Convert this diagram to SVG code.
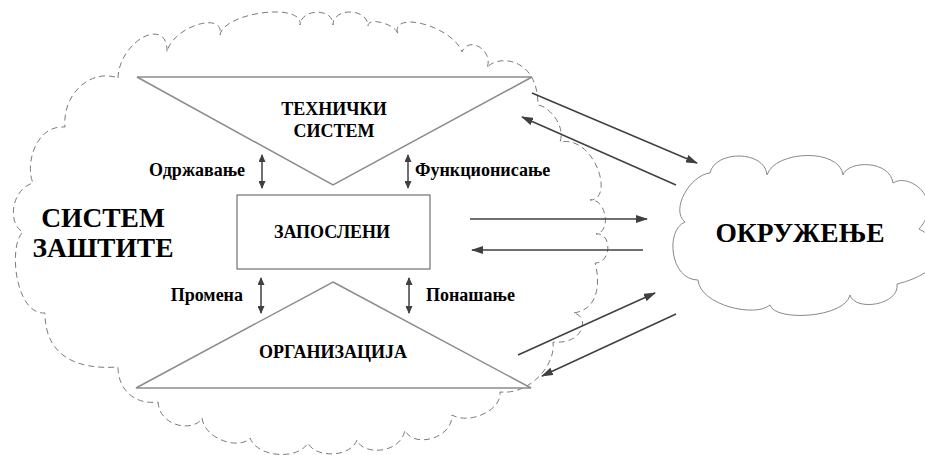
<svg xmlns="http://www.w3.org/2000/svg" width="925" height="455" viewBox="0 0 925 455">
<style>
.t{font-family:"Liberation Serif","DejaVu Serif","Noto Serif",serif;font-weight:bold;fill:#000}
.s{font-size:18px}
.tri{fill:#fff;stroke:#8c8c8c;stroke-width:1.5}
.box{fill:#fff;stroke:#555;stroke-width:1}
.dash{fill:none;stroke:#7a7a7a;stroke-width:1;stroke-dasharray:6 4}
.cl{fill:#fff;stroke:#8a8a8a;stroke-width:1}
.ar{stroke:#404040;stroke-width:1.5;fill:none}
</style>
<defs>
<marker id="ah" viewBox="0 0 12 8" refX="11" refY="4" markerWidth="12" markerHeight="8" markerUnits="userSpaceOnUse" orient="auto">
<path d="M0,0 L12,4 L0,8 z" fill="#404040"/>
</marker>
<marker id="sh" viewBox="0 0 8 7" refX="7" refY="3.5" markerWidth="8" markerHeight="7" markerUnits="userSpaceOnUse" orient="auto-start-reverse">
<path d="M0,0 L8,3.5 L0,7 z" fill="#404040"/>
</marker>
</defs>
<g id="sistem-zastite">
<path class="dash" d="M118,78 C119,41 168,15 167,52 C172,27 225,10 220,35 C224,12 304,2 300,25 C301,8 334,8 333,25 C333,7 368,8 368,26 C368,16 398,25 398,35 C389,9 453,26 462,52 C469,35 494,51 487,68 C495,55 538,55 538,105 C548,106 566,125 560,142 C595,135 615,200 590,200 C606,198 612,232 596,234 C612,232 612,263 595,263 C600,280 600,310 573,313 C590,315 585,345 553,342 C556,365 530,395 500,392 C502,410 470,425 452,415 C452,440 412,448 405,430 C400,455 362,455 357,440 C350,458 315,458 308,443 C298,460 258,458 250,438 C240,450 205,440 202,418 C195,432 160,428 158,402 C135,405 118,390 118,367 C75,370 45,355 45,313 C15,315 8,245 23,232 C8,225 10,190 33,183 C25,165 35,125 65,127 C62,95 90,68 118,78 Z"/>
<text class="t" x="103" y="227" font-size="27.5" text-anchor="middle">СИСТЕМ</text>
<text class="t" x="103" y="257" font-size="27.5" text-anchor="middle">ЗАШТИТЕ</text>
</g>
<g id="tehnicki-sistem">
<polygon class="tri" points="137,77 532,77 333,185"/>
<text class="t s" x="334" y="115" text-anchor="middle">ТЕХНИЧКИ</text>
<text class="t s" x="334" y="137" text-anchor="middle">СИСТЕМ</text>
</g>
<g id="zaposleni">
<rect class="box" x="237" y="195" width="193" height="74"/>
<text class="t s" x="332" y="238" text-anchor="middle">ЗАПОСЛЕНИ</text>
</g>
<g id="organizacija">
<polygon class="tri" points="333,282 531,388 136,388"/>
<text class="t s" x="333" y="358" text-anchor="middle">ОРГАНИЗАЦИЈА</text>
</g>
<g id="okruzenje">
<path class="cl" d="M685,222 C670,210 690,175 710,173 C715,150 765,150 767,175 C775,150 840,148 843,175 C848,160 890,160 893,183 C910,172 945,200 919,229 C950,245 945,272 897,284 C900,305 855,312 850,295 C845,318 775,322 770,305 C755,318 700,305 698,280 C670,280 665,230 685,222 Z"/>
<text class="t" x="800" y="242" font-size="27.5" text-anchor="middle">ОКРУЖЕЊЕ</text>
</g>
<g id="labels">
<text class="t s" x="245" y="176" text-anchor="end">Одржавање</text>
<text class="t s" x="415" y="176">Функционисање</text>
<text class="t s" x="243" y="301" text-anchor="end">Промена</text>
<text class="t s" x="426" y="301">Понашање</text>
</g>
<g id="connectors">
<line class="ar" x1="262" y1="155" x2="262" y2="188" marker-start="url(#sh)" marker-end="url(#sh)"/>
<line class="ar" x1="408" y1="155" x2="408" y2="188" marker-start="url(#sh)" marker-end="url(#sh)"/>
<line class="ar" x1="261" y1="278" x2="261" y2="313" marker-start="url(#sh)" marker-end="url(#sh)"/>
<line class="ar" x1="409" y1="278" x2="409" y2="313" marker-start="url(#sh)" marker-end="url(#sh)"/>
<line class="ar" x1="532" y1="93" x2="697" y2="163" marker-end="url(#ah)"/>
<line class="ar" x1="676" y1="185" x2="522" y2="117" marker-end="url(#ah)"/>
<line class="ar" x1="470" y1="219" x2="647" y2="219" marker-end="url(#ah)"/>
<line class="ar" x1="643" y1="250" x2="472" y2="250" marker-end="url(#ah)"/>
<line class="ar" x1="518" y1="355" x2="655" y2="293" marker-end="url(#ah)"/>
<line class="ar" x1="676" y1="314" x2="542" y2="376" marker-end="url(#ah)"/>
</g>
</svg>
